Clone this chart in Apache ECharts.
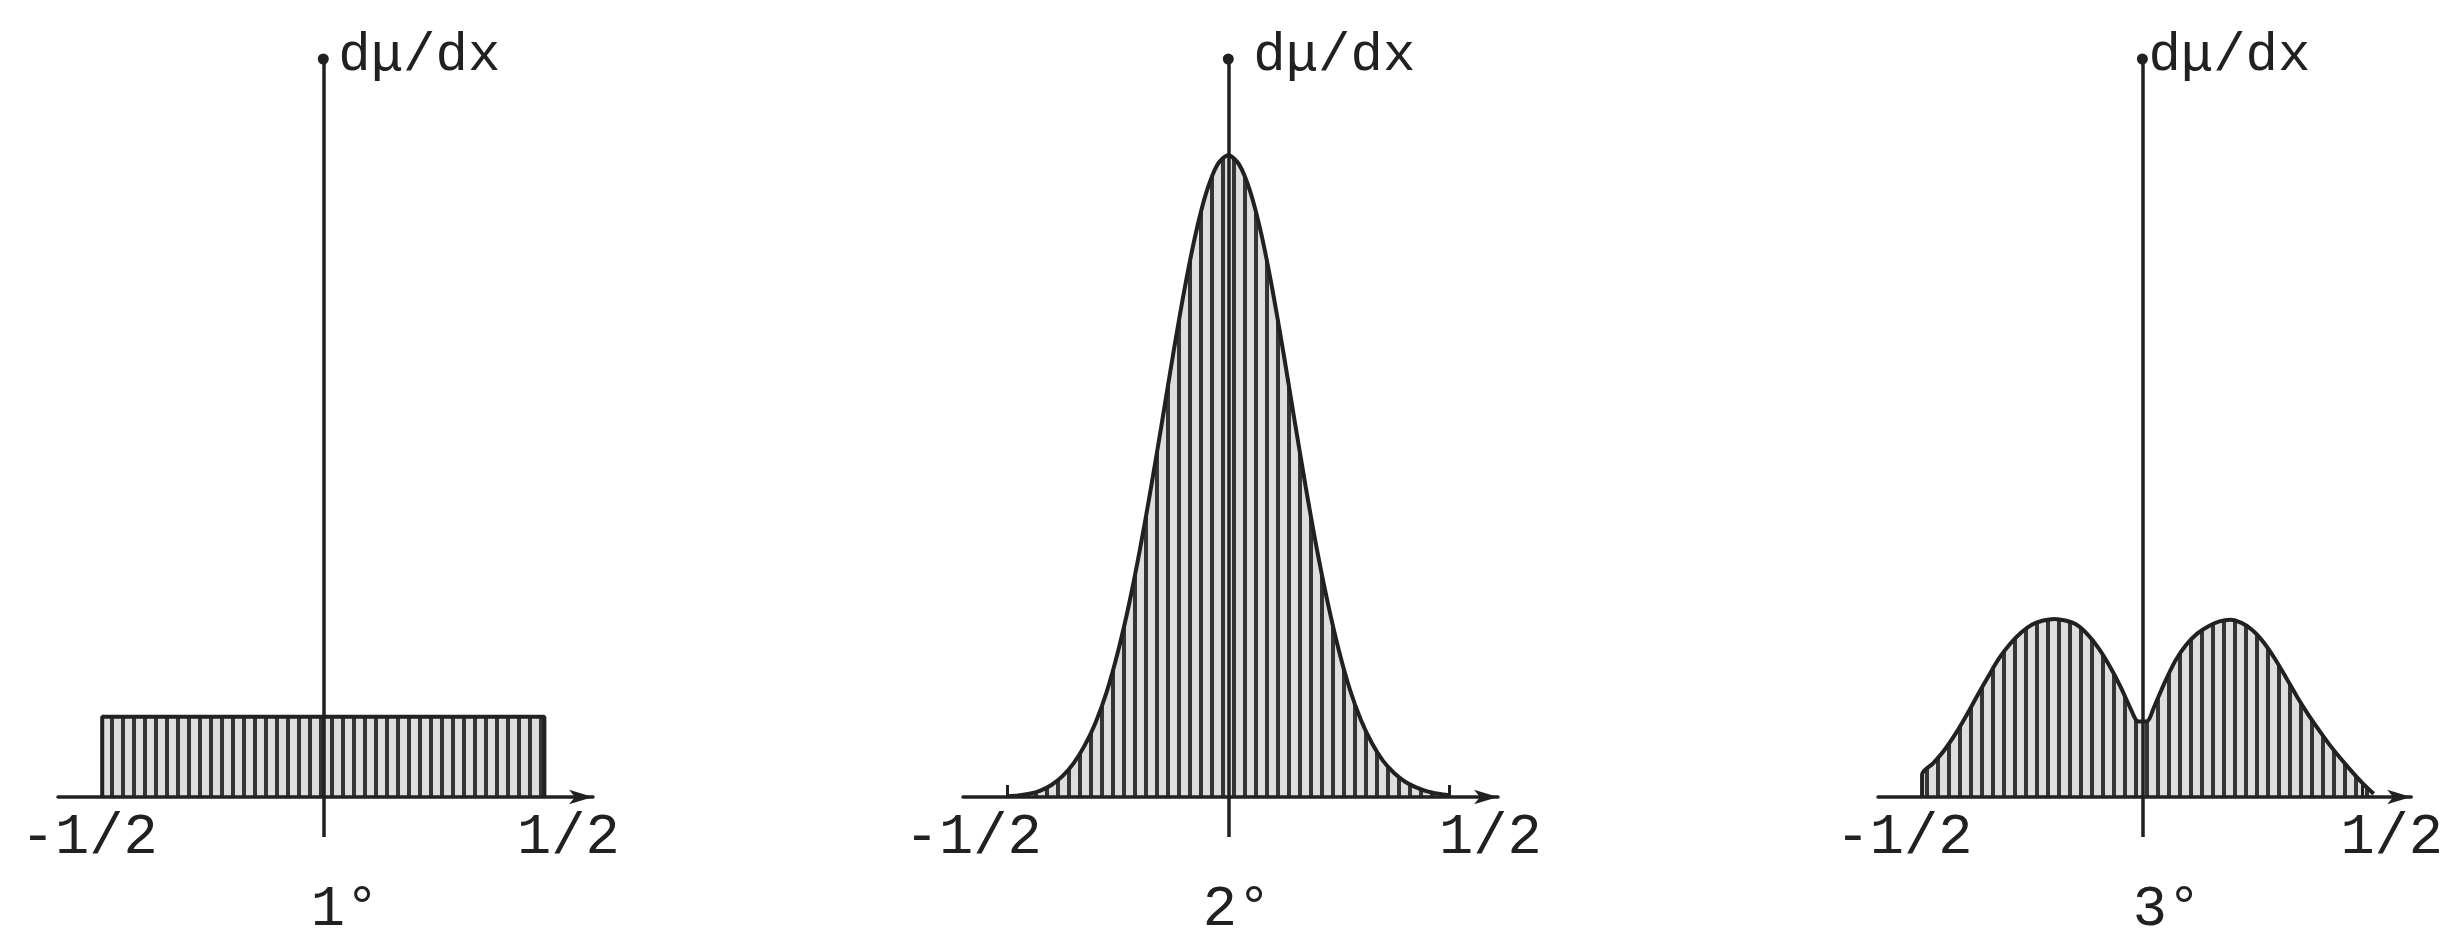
<!DOCTYPE html>
<html>
<head>
<meta charset="utf-8">
<script src="https://cdn.jsdelivr.net/npm/echarts@6/dist/echarts.min.js"></script>
<style>
  html, body { margin: 0; padding: 0; background: #ffffff; }
  #chart { width: 2446px; height: 931px; }
</style>
</head>
<body>
<div id="chart"></div>
<script>
// Densities dμ/dx on [-1/2, 1/2] for the three cases 1°, 2°, 3°.
const panelTitles = ['1°', '2°', '3°'];
const yAxisName = 'dμ/dx';
const tickValues = [-0.5, 0.5];
const tickLabels = ['-1/2', '1/2'];

// 1°: uniform density
const uniformX = [-0.5, -0.5, 0.5, 0.5];
const uniformY = [0, 1, 1, 0];

// 2°: single peak centred at 0
const bellX = [-0.5, -0.475, -0.45, -0.425, -0.4, -0.375, -0.35, -0.325, -0.3, -0.275,
  -0.25, -0.225, -0.2, -0.175, -0.15, -0.125, -0.1, -0.075, -0.05, -0.025,
  0, 0.025, 0.05, 0.075, 0.1, 0.125, 0.15, 0.175, 0.2, 0.225,
  0.25, 0.275, 0.3, 0.325, 0.35, 0.375, 0.4, 0.425, 0.45, 0.475, 0.5];
const bellY = [0.01, 0.02, 0.04, 0.08, 0.15, 0.26, 0.42, 0.64, 0.93, 1.31,
  1.80, 2.39, 3.08, 3.85, 4.67, 5.51, 6.30, 6.99, 7.53, 7.88,
  8.00, 7.88, 7.54, 7.01, 6.32, 5.53, 4.69, 3.87, 3.10, 2.42,
  1.83, 1.34, 0.96, 0.67, 0.45, 0.30, 0.19, 0.12, 0.07, 0.04, 0.02];

// 3°: two humps with a shallow dip at 0
const bimodalX = [-0.5, -0.5, -0.475, -0.45, -0.425, -0.4, -0.375, -0.35, -0.325, -0.3,
  -0.275, -0.25, -0.225, -0.2, -0.175, -0.15, -0.125, -0.1, -0.075, -0.05,
  -0.025, -0.0125, 0, 0.0125, 0.025, 0.05, 0.075, 0.1, 0.125, 0.15,
  0.175, 0.2, 0.225, 0.25, 0.275, 0.3, 0.325, 0.35, 0.375, 0.4,
  0.425, 0.45, 0.475, 0.5, 0.525];
const bimodalY = [0, 0.28, 0.42, 0.58, 0.78, 1.01, 1.26, 1.50, 1.73, 1.91,
  2.05, 2.15, 2.20, 2.22, 2.20, 2.15, 2.03, 1.86, 1.64, 1.38,
  1.08, 0.95, 0.94, 0.95, 1.10, 1.42, 1.70, 1.90, 2.04, 2.13,
  2.19, 2.21, 2.17, 2.08, 1.93, 1.73, 1.50, 1.26, 1.04, 0.84,
  0.65, 0.48, 0.32, 0.17, 0.04];

const curves = [
  { xs: uniformX, ys: uniformY, smooth: false },
  { xs: bellX, ys: bellY, smooth: 0.3 },
  { xs: bimodalX, ys: bimodalY, smooth: 0.3 }
];

// Per-panel placement
const panels = [
  { left: 58,   namePad: 15, shiftL: 13, shiftR: 24, titleX: 345 },
  { left: 963,  namePad: 25, shiftL: 34, shiftR: 41, titleX: 1237 },
  { left: 1878, namePad: 6,  shiftL: 18, shiftR: 29, titleX: 2167 }
];

const INK = '#212121';
const FONT = '"Liberation Mono", "DejaVu Sans Mono", monospace';

// Vertical hatching used to fill the area under each curve
function hatchPattern() {
  const c = document.createElement('canvas');
  c.width = 11; c.height = 8;
  const g = c.getContext('2d');
  g.fillStyle = '#dedede';
  g.fillRect(0, 0, 11, 8);
  g.fillStyle = '#353535';
  g.fillRect(0, 0, 4, 8);
  return c;
}
const hatch = { image: hatchPattern(), repeat: 'repeat' };

const chart = echarts.init(document.getElementById('chart'), null, { renderer: 'canvas' });

const grid = [], xAxis = [], yAxis = [], series = [], graphic = [];

panels.forEach((p, i) => {
  grid.push({ left: p.left, top: 59, width: 535, height: 738, containLabel: false });

  // main horizontal axis with arrow, ±1/2 ticks and labels
  xAxis.push({
    type: 'value', gridIndex: i, min: -0.6, max: 0.61, z: 10,
    axisLine: {
      show: true, onZero: false,
      symbol: ['none', 'arrow'], symbolSize: [11, 24],
      lineStyle: { color: INK, width: 3.5 }
    },
    axisTick: {
      show: true, inside: true, length: 12, customValues: tickValues,
      lineStyle: { color: INK, width: 3 }
    },
    axisLabel: {
      show: true, customValues: tickValues, margin: 12,
      color: INK, fontFamily: FONT, fontSize: 57,
      formatter: v => v < 0 ? '{l|' + tickLabels[0] + '}' : '{r|' + tickLabels[1] + '}',
      rich: {
        l: { padding: [0, 2 * p.shiftL, 0, 0], color: INK, fontFamily: FONT, fontSize: 57 },
        r: { padding: [0, 0, 0, 2 * p.shiftR], color: INK, fontFamily: FONT, fontSize: 57 }
      }
    },
    splitLine: { show: false }
  });
  // companion axis: continues the vertical axis a little below the origin
  xAxis.push({
    type: 'value', gridIndex: i, min: -0.6, max: 0.61, position: 'bottom', z: 10,
    axisLine: { show: false },
    axisTick: {
      show: true, inside: false, length: 40, customValues: [0],
      lineStyle: { color: INK, width: 3.5 }
    },
    axisLabel: { show: false },
    splitLine: { show: false }
  });

  yAxis.push({
    type: 'value', gridIndex: i, min: 0, max: 9.2, z: 10,
    name: yAxisName, nameLocation: 'end', nameGap: 3,
    nameTextStyle: {
      color: INK, fontFamily: FONT, fontSize: 54,
      align: 'left', verticalAlign: 'middle', padding: [0, 0, 0, p.namePad]
    },
    axisLine: {
      show: true, onZero: true, onZeroAxisIndex: 2 * i,
      symbol: ['none', 'circle'], symbolSize: [11, 11],
      lineStyle: { color: INK, width: 3.5 }
    },
    axisTick: { show: false },
    axisLabel: { show: false },
    splitLine: { show: false }
  });

  const c = curves[i];
  series.push({
    type: 'line', xAxisIndex: 2 * i, yAxisIndex: i,
    data: c.xs.map((x, k) => [x, c.ys[k]]),
    smooth: c.smooth, showSymbol: false, symbol: 'none',
    lineStyle: { color: INK, width: 4 },
    areaStyle: { color: hatch, opacity: 1 },
    z: 2
  });

  graphic.push({
    type: 'text', x: p.titleX, y: 910,
    style: {
      text: panelTitles[i], fill: INK, font: '57px ' + FONT,
      align: 'center', verticalAlign: 'middle'
    }
  });
});

chart.setOption({
  animation: false,
  backgroundColor: '#ffffff',
  grid, xAxis, yAxis, series, graphic
});
</script>
</body>
</html>
